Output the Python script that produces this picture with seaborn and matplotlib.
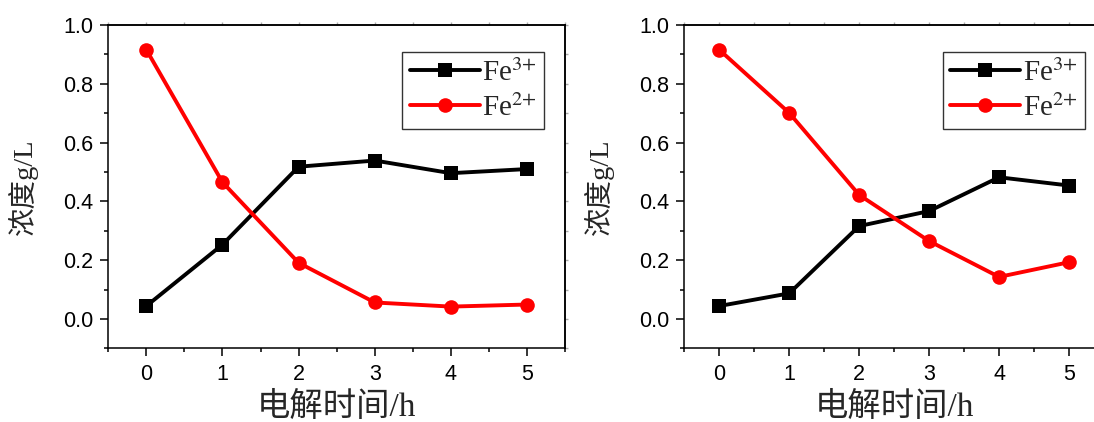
import matplotlib
matplotlib.use('Agg')
import matplotlib.pyplot as plt
from matplotlib.ticker import MultipleLocator
import pandas as pd
import seaborn as sns

hours = [0, 1, 2, 3, 4, 5]
fe3_a = [0.044, 0.253, 0.518, 0.539, 0.496, 0.510]
fe2_a = [0.916, 0.465, 0.191, 0.056, 0.042, 0.049]
fe3_b = [0.044, 0.087, 0.316, 0.367, 0.482, 0.454]
fe2_b = [0.916, 0.701, 0.422, 0.265, 0.143, 0.193]
labels = ['Fe$^{3{+}}$', 'Fe$^{2{+}}$']

sns.set_style('ticks')
plt.rcParams['font.family'] = ['Liberation Sans', 'Noto Sans CJK SC']
plt.rcParams['mathtext.fontset'] = 'stix'

fig = plt.figure(figsize=(10.94, 4.22), dpi=100)
ax1 = fig.add_axes([0.099, 0.1746, 0.4175, 0.766])
ax2 = fig.add_axes([0.6255, 0.1746, 0.3836, 0.766])

serif = ['Liberation Serif', 'Noto Sans CJK SC']

for ax, fe3, fe2 in [(ax1, fe3_a, fe2_a), (ax2, fe3_b, fe2_b)]:
    df = pd.DataFrame({'h': hours, 'fe3': fe3, 'fe2': fe2})
    sns.lineplot(x='h', y='fe3', data=df, ax=ax, color='black', marker='s',
                 markersize=9.5, markeredgewidth=0, linewidth=2.8, label=labels[0])
    sns.lineplot(x='h', y='fe2', data=df, ax=ax, color='#ff0000', marker='o',
                 markersize=10.5, markeredgewidth=0, linewidth=2.8, label=labels[1])
    ax.set_xlim(-0.5, 5.5)
    ax.set_ylim(-0.1, 1.0)
    ax.xaxis.set_major_locator(MultipleLocator(1))
    ax.xaxis.set_minor_locator(MultipleLocator(0.5))
    ax.yaxis.set_major_locator(MultipleLocator(0.2))
    ax.yaxis.set_minor_locator(MultipleLocator(0.1))
    ax.tick_params(which='both', direction='out', labelsize=15.5, width=1.1,
                   colors='black', pad=5)
    ax.tick_params(which='major', length=6)
    ax.tick_params(which='minor', length=3)
    ax.set_yticks([0.0, 0.2, 0.4, 0.6, 0.8, 1.0])
    ax.set_yticklabels(['0.0', '0.2', '0.4', '0.6', '0.8', '1.0'])
    # faint ticks on top and right, as in the original
    top = ax.secondary_xaxis('top')
    top.xaxis.set_major_locator(MultipleLocator(1))
    top.xaxis.set_minor_locator(MultipleLocator(0.5))
    top.tick_params(which='both', direction='out', length=2, width=1,
                    colors='#aaaaaa', labeltop=False)
    right = ax.secondary_yaxis('right')
    right.yaxis.set_major_locator(MultipleLocator(0.2))
    right.yaxis.set_minor_locator(MultipleLocator(0.1))
    right.tick_params(which='both', direction='out', length=2, width=1,
                      colors='#aaaaaa', labelright=False)
    for sp in [top.spines['top'], right.spines['right']]:
        sp.set_color('black')
        sp.set_linewidth(1.1)
    for s in ax.spines.values():
        s.set_linewidth(1.1)
        s.set_color('black')
    ax.set_xlabel('电解时间/h', fontsize=24, family=serif, labelpad=5)
    ax.set_ylabel('浓度g/L', fontsize=20.5, family=serif, labelpad=18)
    leg = ax.legend(loc='upper right', bbox_to_anchor=(0.955, 0.918),
                    fancybox=False, framealpha=1, edgecolor='#333333',
                    prop={'family': 'Liberation Serif', 'size': 21},
                    handlelength=2.4, handletextpad=0.1, borderpad=0.25,
                    labelspacing=0.25, borderaxespad=0)
    leg.get_frame().set_linewidth(1.0)

fig.savefig('out.png', dpi=100)
